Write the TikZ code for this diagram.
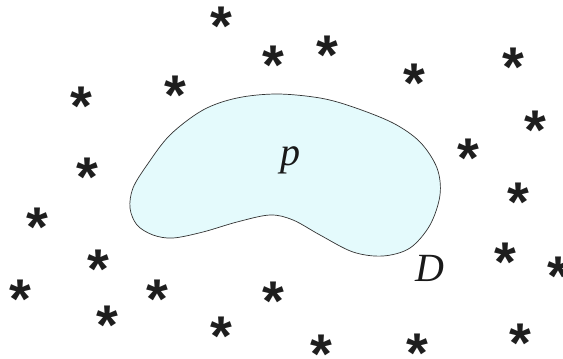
\documentclass[tikz,border=0pt]{standalone}
\usepackage{fontspec}
\setmainfont{Liberation Serif}
\newfontfamily\starfont{Liberation Sans}
\definecolor{blobfill}{RGB}{228,250,252}
\definecolor{starcol}{RGB}{30,30,30}
\newcommand{\starglyph}{\smash{\raisebox{-29pt}{*}}}
\tikzset{
  starnode/.style={inner sep=0pt, text=starcol, font=\starfont\bfseries\fontsize{56}{56}\selectfont},
  lbl/.style={inner sep=0pt, font=\fontsize{40}{40}\selectfont\itshape, text=black!90}
}
\begin{document}
\begin{tikzpicture}[x=1pt,y=-1pt]
\useasboundingbox (0,0) rectangle (563,359);
\draw[fill=blobfill, draw=black!80, line width=0.7pt]
  plot[smooth cycle, tension=0.55] coordinates {
  (277,94) (320,98) (353,107) (393,123) (420,142) (437,168) (440,195) (430,225)
  (410,248) (383,256) (353,252) (320,235) (293,220) (270,215) (237,222) (203,232)
  (173,238) (153,235) (137,225) (130,208) (133,188) (147,165) (170,135) (203,110) (237,98)};
\node[lbl] (p) at (290,160) {p};
\node[lbl] (D) at (430,268) {D};
\foreach \n/\x/\y in {1/221/16, 2/273/55, 3/175/85, 4/81/96, 5/87/167, 6/327/45, 7/414/73,
  8/513/57, 9/535/120, 10/468/148, 11/37/217, 12/98/259, 13/20/289, 14/157/289,
  15/107/315, 16/221/326, 17/273/291, 18/518/192, 19/505/252, 20/558/266,
  21/321/344, 22/417/343, 23/520/333}
  \node[starnode] (s\n) at (\x,\y) {\starglyph};
\end{tikzpicture}
\end{document}
